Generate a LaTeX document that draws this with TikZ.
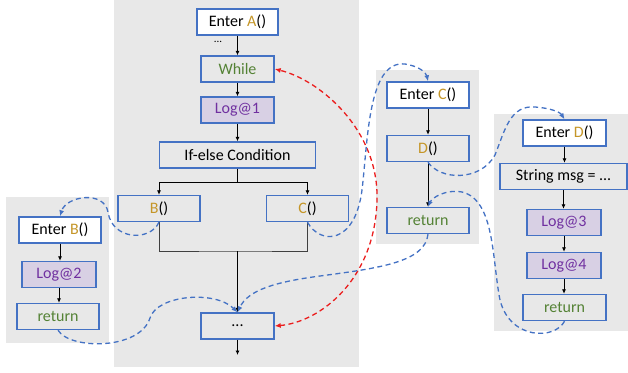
\documentclass[tikz,border=0pt]{standalone}
\usepackage{fontspec}
\setmainfont{Carlito}
\usetikzlibrary{arrows.meta}
\definecolor{panelgray}{RGB}{232,232,232}
\definecolor{boxblue}{RGB}{68,114,196}
\definecolor{logfill}{RGB}{216,208,228}
\definecolor{logtext}{RGB}{112,48,160}
\definecolor{kwgreen}{RGB}{84,130,53}
\definecolor{fnorange}{RGB}{197,150,40}
\definecolor{callblue}{RGB}{68,114,196}
\definecolor{backred}{RGB}{235,30,30}
\newcommand{\fn}[1]{\textcolor{fnorange}{#1}}

\begin{document}
\begin{tikzpicture}[x=1pt,y=-1pt,
   font=\fontsize{16}{19}\selectfont,
   blk/.style={draw=boxblue,line width=1.4pt,fill=panelgray,minimum height=26pt,inner sep=0pt},
   enterblk/.style={blk,fill=white},
   logblk/.style={blk,fill=logfill,text=logtext},
   kwblk/.style={blk,text=kwgreen},
   flow/.style={-{Latex[length=4.5pt,width=4pt]},line width=0.8pt},
   call/.style={draw=callblue,dash pattern=on 5pt off 3.5pt,line width=1.3pt,-{Latex[length=6pt,width=5pt]}},
   backedge/.style={draw=backred,dash pattern=on 5pt off 3.5pt,line width=1.3pt,{Latex[length=6pt,width=5pt]}-{Latex[length=6pt,width=5pt]}}]
   \useasboundingbox (0,0) rectangle (628,372);
   \fill[panelgray] (114,0) rectangle (359,367);
   \fill[panelgray] (6,197) rectangle (109,343);
   \fill[panelgray] (376,70) rectangle (479,244);
   \fill[panelgray] (494,114) rectangle (628,331);

   \node[enterblk,minimum width=81pt] (entera) at (237.5,22) {Enter \fn{A}()};
   \node[kwblk,minimum width=73pt] (while) at (237.5,69) {While};
   \node[logblk,minimum width=73pt] (log1) at (237.5,110) {Log@1};
   \node[blk,minimum width=156pt] (ifelse) at (237.5,155) {If-else Condition};
   \node[blk,minimum width=82pt] (bcall) at (159,208.5) {\fn{B}()};
   \node[blk,minimum width=82pt] (ccall) at (307.5,208.5) {\fn{C}()};
   \node[blk,minimum width=73pt] (dots) at (237.5,326) {...};
   \node[font=\fontsize{11}{13}\selectfont] (skip) at (218,42) {...};

   \node[enterblk,minimum width=82pt] (enterb) at (60,230) {Enter \fn{B}()};
   \node[logblk,minimum width=74pt] (log2) at (59,274.5) {Log@2};
   \node[kwblk,minimum width=82pt] (retb) at (58,316.5) {return};

   \node[enterblk,minimum width=82pt] (enterc) at (428,95) {Enter \fn{C}()};
   \node[blk,minimum width=82pt] (dcall) at (428,148.5) {\fn{D}()};
   \node[kwblk,minimum width=82pt] (retc) at (428,220.5) {return};

   \node[enterblk,minimum width=83pt] (enterd) at (564.5,133) {Enter \fn{D}()};
   \node[blk,minimum width=127pt] (msg) at (563.5,176.5) {String msg = ...};
   \node[logblk,minimum width=74pt] (log3) at (564,222.5) {Log@3};
   \node[logblk,minimum width=74pt] (log4) at (564,265.5) {Log@4};
   \node[kwblk,minimum width=83pt] (retd) at (564.5,307.5) {return};

   \foreach \a/\b in {entera/while,while/log1,log1/ifelse,enterb/log2,log2/retb,
                      enterc/dcall,dcall/retc,enterd/msg,msg/log3,log3/log4,log4/retd}
    \draw[flow] (\a.south) -- (\a.south |- \b.north);

   \coordinate (split) at (237.5,182);
   \coordinate (join) at (237.5,251);
   \coordinate (exit) at (237.5,355);
   \draw[line width=0.9pt] (ifelse.south) -- (split);
   \draw[flow] (split) -| (bcall.north);
   \draw[flow] (split) -| (ccall.north);
   \draw[line width=1pt,black!75] (bcall.south) |- (join) -| (ccall.south);
   \draw[flow] (join) -- (dots.north);
   \draw[flow] (dots.south) -- (exit);

   \draw[backedge] (dots.east) .. controls (320,322) and (375,280) .. (377,200)
    .. controls (379,130) and (320,80) .. (while.east);
   \draw[call] (bcall.south) .. controls (150,242) and (112,240) .. (108,212)
    .. controls (104,190) and (66,196) .. (enterb.north);
   \draw[call] (retb.south) .. controls (70,350) and (140,350) .. (150,318)
    .. controls (157,295) and (215,290) .. (dots.north);
   \draw[call] (ccall.south) .. controls (320,245) and (355,245) .. (362,190)
    .. controls (368,140) and (368,60) .. (405,64)
    .. controls (418,66) and (426,72) .. (enterc.north);
   \draw[call] (dcall.south) .. controls (440,180) and (480,182) .. (495,155)
    .. controls (505,130) and (510,105) .. (535,107)
    .. controls (550,108) and (560,112) .. (enterd.north);
   \draw[call] (retd.south) .. controls (555,340) and (510,340) .. (500,300)
    .. controls (492,260) and (495,200) .. (462,192)
    .. controls (445,189) and (432,198) .. (retc.north);
   \draw[call] (retc.south) .. controls (425,262) and (380,268) .. (320,276)
    .. controls (275,282) and (248,290) .. (dots.north);
\end{tikzpicture}
\end{document}
